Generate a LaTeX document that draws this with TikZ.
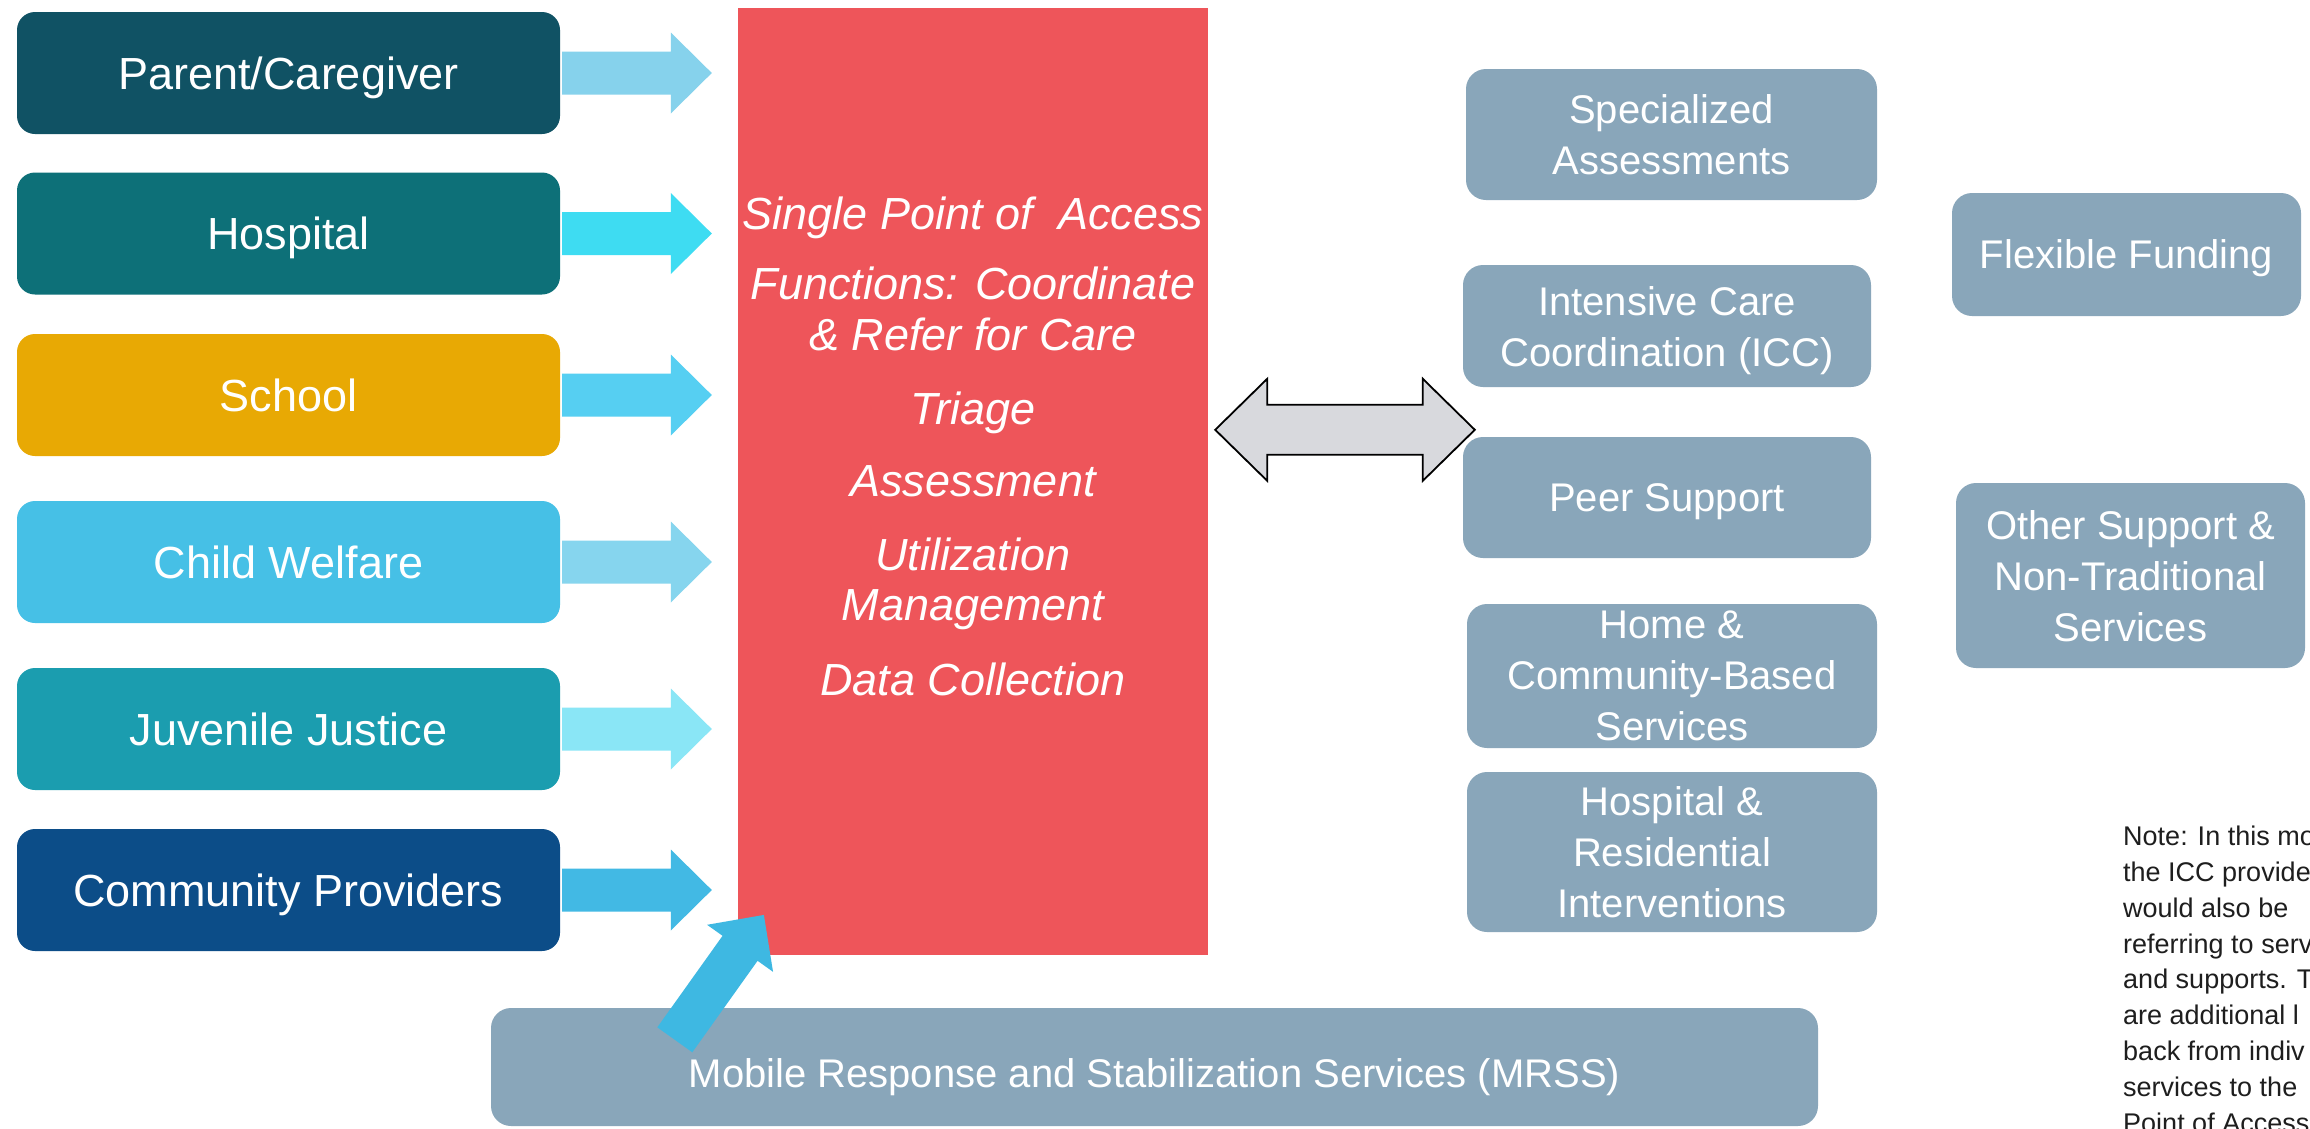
\documentclass[tikz,border=0pt]{standalone}
\usepackage{fontspec}
\setmainfont{Liberation Sans}
\usetikzlibrary{calc}

% box fills
\definecolor{parentc}{RGB}{16,82,100}
\definecolor{hospc}{RGB}{13,112,120}
\definecolor{schoolc}{RGB}{232,169,4}
\definecolor{childc}{RGB}{70,192,230}
\definecolor{juvc}{RGB}{27,157,175}
\definecolor{commc}{RGB}{12,77,136}
\definecolor{spoac}{RGB}{238,85,90}
\definecolor{svcc}{RGB}{137,166,186}
\definecolor{dblc}{RGB}{216,217,221}
% arrow fills
\definecolor{arA}{RGB}{134,210,236}
\definecolor{arB}{RGB}{62,220,242}
\definecolor{arC}{RGB}{86,207,242}
\definecolor{arD}{RGB}{134,213,238}
\definecolor{arE}{RGB}{138,230,246}
\definecolor{arF}{RGB}{66,185,228}
\definecolor{arM}{RGB}{62,184,226}
\definecolor{notec}{RGB}{30,30,30}

% block arrow from a referral source to the access point
\newcommand\feedarrow[2]{%
  \coordinate (#1-tail) at ($(#1.east)+(2,0)$);
  \coordinate (#1-tip) at ($(spoa.west |- #1.east)+(-26,0)$);
  \fill[#2] ($(#1-tail)+(0,-21.5)$) -- ($(#1-tip)+(-41,-21.5)$)
    -- ($(#1-tip)+(-41,-40.5)$) -- (#1-tip) -- ($(#1-tip)+(-41,40.5)$)
    -- ($(#1-tip)+(-41,21.5)$) -- ($(#1-tail)+(0,21.5)$) -- cycle;
}

\begin{document}
\begin{tikzpicture}[x=1pt,y=-1pt,
  srcbox/.style={rectangle, rounded corners=18pt, minimum width=543pt,
    minimum height=122pt, inner sep=0pt, text=white,
    font=\fontsize{45}{54}\selectfont, text height=32pt, text depth=0pt},
  svcbox/.style={rectangle, rounded corners=20pt, fill=svcc, inner sep=0pt,
    text=white, align=center, font=\fontsize{40}{51}\selectfont,
    text depth=0pt},
  spoaline/.style={anchor=base, inner sep=0pt, text=white,
    font=\fontsize{45}{50}\selectfont\itshape},
]
\useasboundingbox (0,0) rectangle (2310,1128);
\fill[white] (0,0) rectangle (2310,1128);

% referral sources
\node[srcbox, fill=parentc] (parent) at (288.5,73)    {Parent/Caregiver};
\node[srcbox, fill=hospc]   (hosp)   at (288.5,233.5) {Hospital};
\node[srcbox, fill=schoolc] (school) at (288.5,395)   {School};
\node[srcbox, fill=childc]  (child)  at (288.5,562)   {Child Welfare};
\node[srcbox, fill=juvc]    (juv)    at (288.5,729)   {Juvenile Justice};
\node[srcbox, fill=commc]   (comm)   at (288.5,890)   {Community Providers};

% single point of access
\node[rectangle, fill=spoac, minimum width=470pt, minimum height=947pt,
  inner sep=0pt] (spoa) at (973,481.5) {};
\node[spoaline] (f1) at (973,229) {Single Point of\ \ Access};
\node[spoaline] (f2) at (973,299) {Functions: Coordinate};
\node[spoaline] (f3) at (973,350) {\& Refer for Care};
\node[spoaline] (f4) at (973,424) {Triage};
\node[spoaline] (f5) at (973,496) {Assessment};
\node[spoaline] (f6) at (973,570) {Utilization};
\node[spoaline] (f7) at (973,620) {Management};
\node[spoaline] (f8) at (973,695) {Data Collection};

% services
\node[svcbox, minimum width=411pt, minimum height=131pt] (spec) at (1671.5,134.5)
  {Specialized\\Assessments};
\node[svcbox, minimum width=408pt, minimum height=122pt] (icc) at (1667,326)
  {Intensive Care\\Coordination (ICC)};
\node[svcbox, minimum width=408pt, minimum height=121pt] (peer) at (1667,497.5)
  {Peer Support};
\node[svcbox, minimum width=410pt, minimum height=144pt] (home) at (1672,676)
  {Home \&\\Community-Based\\Services};
\node[svcbox, minimum width=410pt, minimum height=160pt] (hres) at (1672,852)
  {Hospital \&\\Residential\\Interventions};
\node[svcbox, minimum width=349pt, minimum height=123pt] (flex) at (2126.5,254.5)
  {Flexible Funding};
\node[svcbox, minimum width=349pt, minimum height=185pt] (other) at (2130.5,575.5)
  {Other Support \&\\Non-Traditional\\Services};
\node[svcbox, minimum width=1327pt, minimum height=118pt] (mrss) at (1154.5,1067)
  {\raisebox{-6pt}[\height][\depth]{Mobile Response and Stabilization Services (MRSS)}};

% referral arrows
\feedarrow{parent}{arA}
\feedarrow{hosp}{arB}
\feedarrow{school}{arC}
\feedarrow{child}{arD}
\feedarrow{juv}{arE}
\feedarrow{comm}{arF}

% MRSS arrow into the access point
\coordinate (mtail) at ($(mrss.north west)+(184,32)$);
\coordinate (mtip) at ($(spoa.south west)+(26,-40)$);
\begin{scope}[shift={(mtail)}, rotate=54.5]
  \fill[arM] (0,-21.5) -- (112.4,-21.5) -- (112.4,-40.5) -- (153.4,0)
    -- (112.4,40.5) -- (112.4,21.5) -- (0,21.5) -- cycle;
\end{scope}

% two-way link between access point and services
\coordinate (dl) at ($(spoa.north east)+(7,422)$);
\coordinate (dr) at ($(peer.north west)+(12,-7)$);
\draw[fill=dblc, draw=black, line width=1.8pt, line join=miter]
  (dl) -- ($(dl)+(52,-51)$) -- ($(dl)+(52,-25)$) -- ($(dr)+(-52,-25)$)
  -- ($(dr)+(-52,-51)$) -- (dr) -- ($(dr)+(-52,51)$) -- ($(dr)+(-52,25)$)
  -- ($(dl)+(52,25)$) -- ($(dl)+(52,51)$) -- cycle;

% note
\node[anchor=north west, inner sep=0pt, align=left, text=notec,
  font=\fontsize{27}{35.8}\selectfont] (note) at (2123,826)
  {Note: In this mo\\the ICC provide\\would also be\\referring to serv\\and supports. T\\are additional l\\back from indiv\\services to the\\Point of Access};
\end{tikzpicture}
\end{document}
